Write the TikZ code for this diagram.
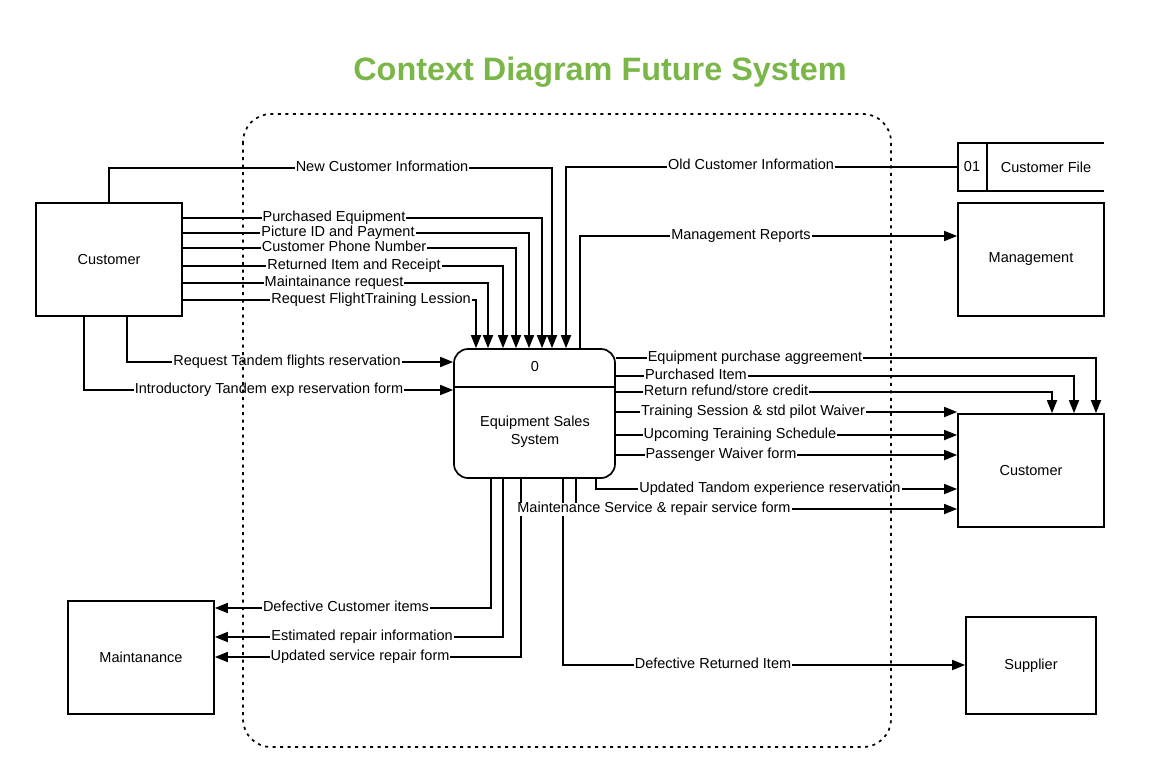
\documentclass[tikz,border=0pt]{standalone}
\usepackage{fontspec}
\setmainfont{Liberation Sans}
\usetikzlibrary{arrows.meta, positioning}
\usepackage{xcolor}
\definecolor{titlegreen}{RGB}{122,182,72}
\tikzset{entitynode/.style={rectangle, draw=black, line width=1.7pt, minimum width=146pt, minimum height=113pt, inner sep=0pt},
flowlabel/.style={fill=white, inner xsep=1pt, inner ysep=0pt, text height=10pt, text depth=3pt},
flowline/.style={line width=1.7pt, -{Triangle[length=13pt, width=10pt]}}}

\begin{document}
\begin{tikzpicture}[
                x=1pt, y=-1pt,
                every node/.style={font=\fontsize{14.5}{18}\selectfont},
                boundary/.style={line width=1.7pt, dash pattern=on 3pt off 4.5pt, rounded corners=28pt}
            ]
                \useasboundingbox (0,0) rectangle (1158,779);

                % Title
                \node[font=\bfseries\fontsize{32.4}{38}\selectfont, text=titlegreen] (title) at (600,72) {Context Diagram Future System};

                % Entities
                \node[entitynode] (custL) at (109,259.5) {Customer};
                \node[entitynode] (mgmt) at (1031,259.5) {Management};
                \node[entitynode] (custR) at (1031,470.5) {Customer};
                \node[entitynode] (maint) at (141,657.5) {Maintanance};
                \node[entitynode, minimum width=130pt, minimum height=97pt] (supp) at (1031,665.5) {Supplier};

                % Data store
                \node[minimum width=146pt, minimum height=48pt, inner sep=0pt] (custFile) at (1031,167) {};
                \draw[line width=1.7pt] (custFile.north east) -- (custFile.north west) -- (custFile.south west) -- (custFile.south east);
                \draw[line width=1.7pt] ([xshift=29pt]custFile.north west) -- ([xshift=29pt]custFile.south west);
                \node (fileId) at (972,167) {01};
                \node (fileName) at (1046,167) {Customer File};

                % Process
                \node[rectangle, draw=black, line width=1.7pt, rounded corners=14pt, minimum width=161pt, minimum height=129pt] (proc) at (534.5,413.5) {};
                \draw[line width=1.7pt] (proc.west |- 0,387) -- (proc.east |- 0,387);
                \node (procId) at (535,367) {0};
                \node[align=center] (procName) at (535,432) {Equipment Sales\\System};

                % Flows into the process
                \draw[flowline] (custL.north) |- (552,168) -- (552,0 |- proc.north);
                \draw[flowline] (custL.east |- 0,218) -| (542,0 |- proc.north);
                \draw[flowline] (custL.east |- 0,233) -| (529,0 |- proc.north);
                \draw[flowline] (custL.east |- 0,248) -| (516,0 |- proc.north);
                \draw[flowline] (custL.east |- 0,266) -| (503,0 |- proc.north);
                \draw[flowline] (custL.east |- 0,283) -| (488,0 |- proc.north);
                \draw[flowline] (custL.east |- 0,300) -| (476,0 |- proc.north);
                \draw[flowline] (custFile.west) -| (566,0 |- proc.north);
                \draw[flowline] (custL.south -| 127,0) |- (proc.west |- 0,362);
                \draw[flowline] (custL.south -| 84,0) |- (proc.west |- 0,390);

                % Flows out of the process
                \draw[flowline] (580,0 |- proc.north) |- (mgmt.west |- 0,236);
                \draw[flowline] (proc.east |- 0,358) -| (1096,0 |- custR.north);
                \draw[flowline] (proc.east |- 0,376) -| (1074,0 |- custR.north);
                \draw[flowline] (proc.east |- 0,392) -| (1052,0 |- custR.north);
                \draw[flowline] (proc.east |- 0,412) -- (custR.west |- 0,412);
                \draw[flowline] (proc.east |- 0,435) -- (custR.west |- 0,435);
                \draw[flowline] (proc.east |- 0,455) -- (custR.west |- 0,455);
                \draw[flowline] (proc.south -| 596,0) |- (custR.west |- 0,489);
                \draw[flowline] (proc.south -| 576,0) |- (custR.west |- 0,509);
                \draw[flowline] (proc.south -| 491,0) |- (maint.east |- 0,608);
                \draw[flowline] (proc.south -| 503,0) |- (maint.east |- 0,637);
                \draw[flowline] (proc.south -| 521,0) |- (maint.east |- 0,657);
                \draw[flowline] (proc.south -| 563,0) |- (supp.west |- 0,665);

                % Labels
                \node[flowlabel] (lNewInfo) at (382,168) {New Customer Information};
                \node[flowlabel] (lPurchEq) at (334,218) {Purchased Equipment};
                \node[flowlabel] (lPicture) at (338,233) {Picture ID and Payment};
                \node[flowlabel] (lPhone) at (344,248) {Customer Phone Number};
                \node[flowlabel] (lReturned) at (354,266) {Returned Item and Receipt};
                \node[flowlabel] (lMaintReq) at (334,283) {Maintainance request};
                \node[flowlabel] (lLesson) at (371,300) {Request FlightTraining Lession};
                \node[flowlabel] (lOldInfo) at (751,166) {Old Customer Information};
                \node[flowlabel] (lReports) at (741,236) {Management Reports};
                \node[flowlabel] (lTandem) at (287,362) {Request Tandem flights reservation};
                \node[flowlabel] (lIntro) at (269,390) {Introductory Tandem exp reservation form};
                \node[flowlabel] (lAgree) at (755,358) {Equipment purchase aggreement};
                \node[flowlabel] (lPurchItem) at (696,376) {Purchased Item};
                \node[flowlabel] (lRefund) at (726,392) {Return refund/store credit};
                \node[flowlabel] (lSession) at (753,412) {Training Session \& std pilot Waiver};
                \node[flowlabel] (lSchedule) at (740,435) {Upcoming Teraining Schedule};
                \node[flowlabel] (lWaiver) at (721,455) {Passenger Waiver form};
                \node[flowlabel] (lUpdTandem) at (770,489) {Updated Tandom experience reservation};
                \node[flowlabel] (lService) at (654,509) {Maintenance Service \& repair service form};
                \node[flowlabel] (lDefCust) at (346,608) {Defective Customer items};
                \node[flowlabel] (lEstimate) at (362,637) {Estimated repair information};
                \node[flowlabel] (lUpdForm) at (360,657) {Updated service repair form};
                \node[flowlabel] (lDefRet) at (713,665) {Defective Returned Item};

                % System boundary
                \draw[boundary] (243,114) rectangle (891,747);
            \end{tikzpicture}
\end{document}
